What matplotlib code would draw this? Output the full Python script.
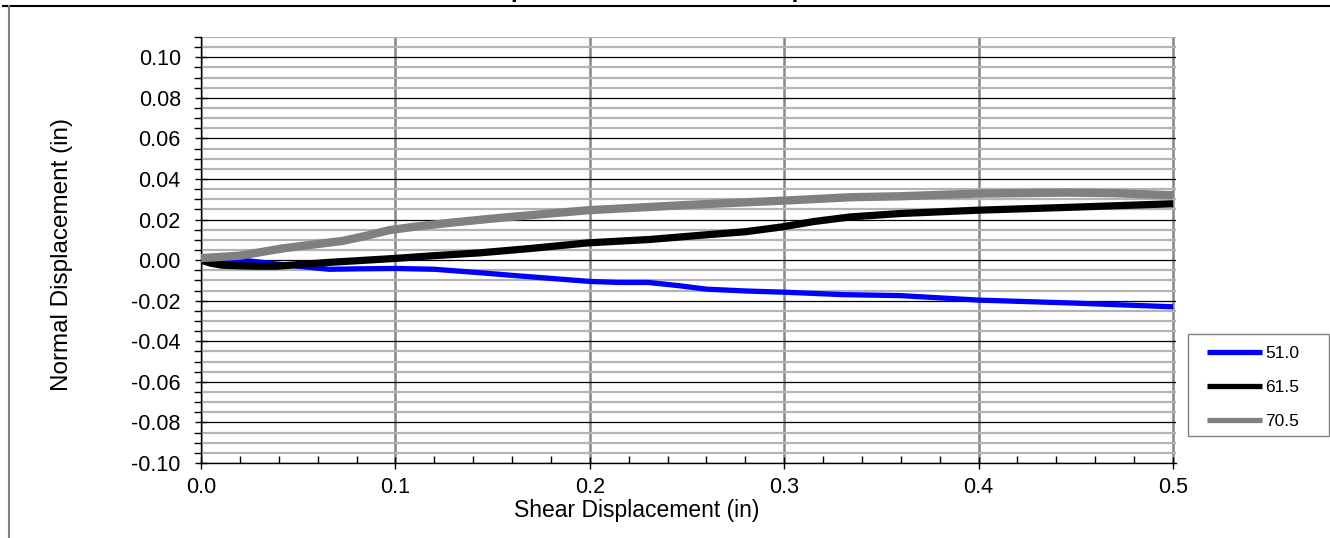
import matplotlib
matplotlib.use("Agg")
import matplotlib.pyplot as plt
from matplotlib.lines import Line2D
from matplotlib.patches import Rectangle
from matplotlib.ticker import MultipleLocator, FuncFormatter

plt.rcParams['font.family'] = ['Liberation Sans', 'DejaVu Sans']

# ---- data ----
title_text = "Normal Displacement vs Shear Displacement"
x_label = "Shear Displacement (in)"
y_label = "Normal Displacement (in)"
series_labels = ["51.0", "61.5", "70.5"]
series_colors = ["#0000ff", "#000000", "#808080"]

x_51 = [0, 0.01, 0.024, 0.04, 0.05, 0.066, 0.08, 0.1, 0.12, 0.1435, 0.16, 0.18,
        0.2, 0.215, 0.23, 0.245, 0.26, 0.28, 0.3, 0.33, 0.36, 0.4, 0.45, 0.5]
y_51 = [0, -0.0001, -0.0003, -0.002, -0.003, -0.0045, -0.0043, -0.0041, -0.0045,
        -0.0062, -0.0075, -0.009, -0.0105, -0.011, -0.011, -0.0125, -0.0143,
        -0.0152, -0.0158, -0.017, -0.0175, -0.0197, -0.0212, -0.023]

x_615 = [0, 0.005, 0.011, 0.02, 0.03, 0.039, 0.05, 0.066, 0.08, 0.099, 0.12,
         0.1435, 0.17, 0.199, 0.231, 0.26, 0.28, 0.299, 0.315, 0.334, 0.36,
         0.399, 0.4455, 0.5]
y_615 = [0, -0.0015, -0.0025, -0.0028, -0.003, -0.003, -0.0022, -0.0011,
         -0.0003, 0.0008, 0.0022, 0.0036, 0.0058, 0.0085, 0.0102, 0.0125,
         0.014, 0.0164, 0.019, 0.0213, 0.023, 0.0246, 0.026, 0.0278]

x_705 = [0, 0.02, 0.042, 0.073, 0.085, 0.097, 0.11, 0.128, 0.15, 0.17, 0.199,
         0.25, 0.299, 0.334, 0.36, 0.399, 0.4455, 0.47, 0.5]
y_705 = [0.001, 0.0022, 0.0058, 0.0095, 0.012, 0.0148, 0.0165, 0.0184, 0.0205,
         0.0222, 0.0246, 0.0272, 0.0293, 0.031, 0.0315, 0.0328, 0.0333, 0.033,
         0.032]

W, H = 1330, 538
fig = plt.figure(figsize=(W / 100, H / 100), dpi=100)

# outer chart-area frame (top black, left gray)
fig.add_artist(Line2D([3 / W, 1], [1 - 6 / H, 1 - 6 / H], color="black", lw=1.5))
fig.add_artist(Line2D([9 / W, 9 / W], [0, 1 - 6 / H], color="#808080", lw=1.5))

# title mostly cut off at top
fig.text(647 / W, 1 + 3.5 / H, title_text, ha="center", va="baseline",
         fontsize=18, fontweight="bold")

left, right, top, bottom = 201, 1176, 37, 463
ax = fig.add_axes([left / W, 1 - bottom / H, (right - left) / W, (bottom - top) / H])

ax.set_xlim(0, 0.5 + 3 / 1944)
ax.set_ylim(-0.10, 0.11)

ax.xaxis.set_major_locator(MultipleLocator(0.1))
ax.xaxis.set_minor_locator(MultipleLocator(0.02))
ax.yaxis.set_major_locator(MultipleLocator(0.02))
ax.yaxis.set_minor_locator(MultipleLocator(0.005))


def fmt_x(v, _):
    v = 0.0 if abs(v) < 1e-9 else v
    return f"{v:.1f}"


def fmt_y(v, _):
    v = 0.0 if abs(v) < 1e-9 else v
    return f"{v:.2f}"


ax.xaxis.set_major_formatter(FuncFormatter(fmt_x))
ax.yaxis.set_major_formatter(FuncFormatter(fmt_y))

ax.grid(False)
ax.yaxis.grid(True, which="minor", color="#b4b4b4", lw=1.6, zorder=0)
ax.yaxis.grid(True, which="major", color="black", lw=0.9, zorder=0.5)
ax.xaxis.grid(True, which="major", color="#868686", lw=1.8, zorder=0.6)
ax.set_axisbelow(True)

for s in ["top", "right"]:
    ax.spines[s].set_visible(False)
for s in ["left", "bottom"]:
    ax.spines[s].set_color("black")
    ax.spines[s].set_linewidth(1.0)

ax.tick_params(axis="both", which="major", direction="inout", length=8, width=1,
               labelsize=15.5, colors="black")
ax.tick_params(axis="y", which="major", pad=10.5)
ax.tick_params(axis="x", which="major", pad=6)
ax.tick_params(axis="y", which="minor", direction="out", length=5, width=1)
ax.tick_params(axis="x", which="minor", direction="in", length=5, width=1)

lines = []
for xs, ys, lab, col, lw in [(x_51, y_51, series_labels[0], series_colors[0], 3.8),
                             (x_615, y_615, series_labels[1], series_colors[1], 5.2),
                             (x_705, y_705, series_labels[2], series_colors[2], 6.0)]:
    ln, = ax.plot(xs, ys, color=col, lw=lw, label=lab, solid_capstyle="butt",
                  solid_joinstyle="round", zorder=3)
    lines.append(ln)

fig.text(637 / W, 1 - 511 / H, x_label, ha="center", va="center", fontsize=16.5)
fig.text(62 / W, 1 - 254 / H, y_label, ha="center", va="center", fontsize=17.5,
         rotation=90)

# legend frame
fig.add_artist(Rectangle((1188 / W, 1 - 436 / H), (1329 - 1188) / W, (436 - 334) / H,
                         transform=fig.transFigure, facecolor="white",
                         edgecolor="#808080", lw=1.0, zorder=5))
leg = fig.legend(handles=lines, labels=series_labels, loc="upper left",
                 bbox_to_anchor=(1197 / W, 1 - 336 / H), fontsize=12.5,
                 handlelength=3.2, handletextpad=0.2, labelspacing=1.1,
                 borderpad=0.55, borderaxespad=0, frameon=False)
leg.set_zorder(6)
for h in leg.get_lines():
    h.set_linewidth(3.8)

fig.savefig("out.png", dpi=100)
